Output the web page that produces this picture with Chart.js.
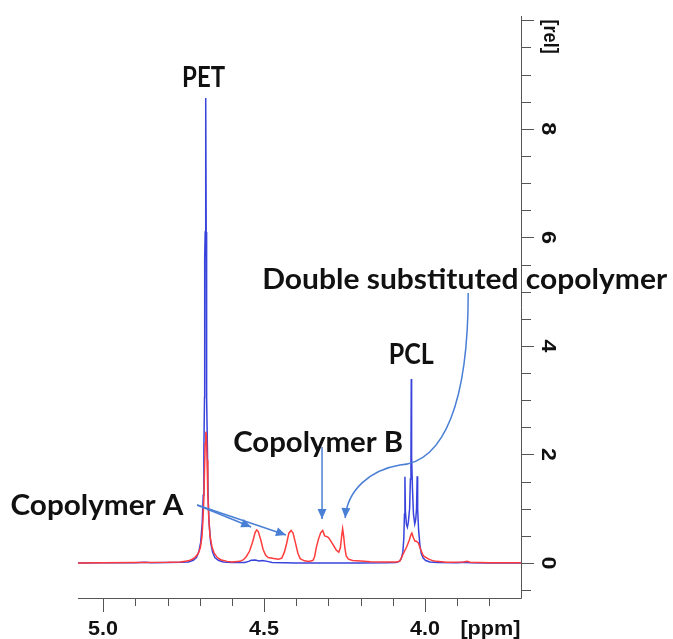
<!DOCTYPE html>
<html>
<head>
<meta charset="utf-8">
<script src="https://cdn.jsdelivr.net/npm/chart.js@4.4.1/dist/chart.umd.min.js"></script>
<style>
  html, body { margin: 0; padding: 0; background: #ffffff; }
  #wrap { width: 673px; height: 639px; position: relative; }
</style>
</head>
<body>
<div id="wrap"><canvas id="c" width="673" height="639"></canvas></div>
<script>
// ---------- data ----------
const bluePpm = [5.078,5.00,4.90,4.87,4.85,4.80,4.76,4.735,4.72,4.71,4.703,4.697,4.692,4.689,4.687,4.685,4.6845,4.683,4.6818,4.6808,4.6798,4.679,4.678,4.676,4.674,4.671,4.666,4.660,4.653,4.642,4.627,4.60,4.56,4.548,4.54,4.528,4.515,4.505,4.49,4.475,4.40,4.30,4.20,4.12,4.09,4.08,4.074,4.069,4.066,4.064,4.0625,4.061,4.058,4.055,4.052,4.048,4.0455,4.0438,4.0428,4.0418,4.039,4.036,4.032,4.029,4.0265,4.0245,4.023,4.020,4.016,4.012,4.006,3.998,3.985,3.96,3.90,3.875,3.86,3.80,3.702];
const blueRel = [0,0.003,0.005,0.012,0.005,0.008,0.012,0.02,0.05,0.1,0.2,0.38,0.75,1.25,2.1,3.05,5.6,6.1,8.57,8.57,6.1,5.6,3.05,2.1,1.25,0.75,0.38,0.2,0.1,0.05,0.02,0.008,0.01,0.03,0.05,0.055,0.035,0.045,0.03,0.01,0.002,0,0,0.003,0.01,0.03,0.08,0.2,0.45,0.9,1.59,0.95,0.72,0.66,0.75,1.0,1.55,1.95,3.39,1.95,1.35,0.9,0.72,0.8,1.0,1.6,1.0,0.6,0.33,0.18,0.09,0.045,0.02,0.008,0.003,0.012,0.003,0,0];

const redPpm = [5.078,5.00,4.90,4.80,4.76,4.735,4.725,4.715,4.705,4.698,4.693,4.690,4.687,4.685,4.683,4.681,4.679,4.677,4.675,4.672,4.668,4.662,4.655,4.645,4.635,4.615,4.600,4.575,4.564,4.555,4.545,4.535,4.528,4.523,4.518,4.510,4.503,4.495,4.487,4.470,4.455,4.445,4.437,4.430,4.423,4.416,4.410,4.403,4.395,4.388,4.375,4.360,4.348,4.343,4.338,4.331,4.324,4.318,4.312,4.306,4.300,4.292,4.284,4.276,4.268,4.263,4.259,4.256,4.253,4.249,4.245,4.238,4.225,4.200,4.170,4.120,4.087,4.078,4.067,4.057,4.049,4.044,4.041,4.036,4.031,4.027,4.021,4.013,4.005,3.99,3.975,3.964,3.933,3.88,3.870,3.86,3.80,3.702];
const redRel = [0,0.005,0.008,0.012,0.02,0.04,0.065,0.1,0.17,0.28,0.48,0.78,1.2,1.7,2.2,2.42,2.35,1.9,1.3,0.85,0.5,0.3,0.18,0.1,0.06,0.03,0.02,0.03,0.06,0.12,0.22,0.40,0.56,0.61,0.58,0.42,0.25,0.14,0.1,0.085,0.07,0.09,0.2,0.36,0.55,0.6,0.55,0.38,0.18,0.08,0.04,0.03,0.05,0.12,0.28,0.44,0.56,0.6,0.5,0.49,0.47,0.4,0.32,0.24,0.2,0.28,0.5,0.63,0.5,0.28,0.13,0.07,0.045,0.035,0.025,0.02,0.02,0.04,0.18,0.3,0.42,0.52,0.55,0.46,0.4,0.4,0.37,0.24,0.13,0.075,0.04,0.03,0.015,0.02,0.03,0.015,0.005,0.005];

const xMajorTicks = [5.0, 4.5, 4.0];
const xTickLabels = ['5.0', '4.5', '4.0'];
const yMajorTicks = [0, 2, 4, 6, 8];
const yTickLabels = ['0', '2', '4', '6', '8'];
const xUnitLabel = '[ppm]';
const yUnitLabel = '[rel]';
const labelTexts = ['PET', 'PCL', 'Copolymer B', 'Copolymer A', 'Double substituted copolymer'];

// ---------- build datasets ----------
const toPts = (xs, ys) => xs.map((x, i) => ({ x: x, y: ys[i] }));

const BLUE = '#3843dc';
const RED = '#ff3c3c';
const ARROW = '#4a7fd6';

function fitText(ctx, text, cx, cy, w, font, rot, baseline) {
  ctx.save();
  ctx.font = font;
  const m = ctx.measureText(text).width;
  ctx.translate(cx, cy);
  if (rot) ctx.rotate(rot);
  ctx.scale(w / m, 1);
  ctx.textAlign = 'center';
  ctx.textBaseline = baseline || 'alphabetic';
  ctx.fillText(text, 0, 0);
  ctx.restore();
}

function arrowHead(ctx, fx, fy, tx, ty, len, half) {
  const a = Math.atan2(ty - fy, tx - fx);
  ctx.beginPath();
  ctx.moveTo(tx, ty);
  ctx.lineTo(tx - len * Math.cos(a) + half * Math.sin(a), ty - len * Math.sin(a) - half * Math.cos(a));
  ctx.lineTo(tx - len * Math.cos(a) - half * Math.sin(a), ty - len * Math.sin(a) + half * Math.cos(a));
  ctx.closePath();
  ctx.fill();
}

const decorPlugin = {
  id: 'decor',
  afterDraw(chart) {
    const ctx = chart.ctx;
    const xs = chart.scales.x, ys = chart.scales.y;
    const X = v => xs.getPixelForValue(v);
    const Y = v => ys.getPixelForValue(v);
    const ca = chart.chartArea;
    ctx.save();
    // axes lines
    ctx.strokeStyle = '#555555';
    ctx.lineWidth = 1;
    ctx.beginPath();
    ctx.moveTo(ca.left, ca.bottom + 0.5);
    ctx.lineTo(ca.right + 0.5, ca.bottom + 0.5);
    ctx.moveTo(ca.right + 0.5, ca.top);
    ctx.lineTo(ca.right + 0.5, ca.bottom + 0.5);
    ctx.stroke();
    // x ticks every 0.1 ppm
    ctx.beginPath();
    for (let k = 51; k >= 37; k--) {
      const v = k / 10;
      if (v > xs.max || v < xs.min) continue;
      const px = Math.round(X(v)) + 0.5;
      const major = (k % 5 === 0);
      ctx.moveTo(px, ca.bottom);
      ctx.lineTo(px, ca.bottom + (major ? 14 : 8));
    }
    // y ticks every 0.5
    for (let k = -1; k <= 20; k++) {
      const v = k / 2;
      if (v > ys.max || v < ys.min) continue;
      const py = Math.round(Y(v)) + 0.5;
      const major = (k % 4 === 0);
      ctx.moveTo(ca.right, py);
      ctx.lineTo(ca.right + (major ? 13 : 10), py);
    }
    ctx.stroke();

    // tick labels
    ctx.fillStyle = '#111111';
    const tickFont = 'bold 21px "Liberation Sans", Arial, sans-serif';
    xMajorTicks.forEach((v, i) => {
      fitText(ctx, xTickLabels[i], X(v), 635, 30, tickFont);
    });
    fitText(ctx, xUnitLabel, X(3.797), 635, 60, tickFont);
    yMajorTicks.forEach((v, i) => {
      fitText(ctx, yTickLabels[i], 548, Y(v), 13, tickFont, Math.PI / 2, 'middle');
    });
    fitText(ctx, yUnitLabel, 550, Y(9.7), 34, tickFont, Math.PI / 2, 'middle');

    // arrows
    ctx.strokeStyle = ARROW;
    ctx.fillStyle = ARROW;
    ctx.lineWidth = 1.5;
    // Copolymer A (two arrows)
    const aS = [X(4.708), Y(1.069)];
    [[4.540, 0.664], [4.432, 0.516]].forEach(t => {
      const tx = X(t[0]), ty = Y(t[1]);
      ctx.beginPath();
      ctx.moveTo(aS[0], aS[1]);
      ctx.lineTo(tx, ty);
      ctx.stroke();
      arrowHead(ctx, aS[0], aS[1], tx, ty, 10, 4.5);
    });
    // Copolymer B
    ctx.beginPath();
    ctx.moveTo(X(4.320), Y(2.138));
    ctx.lineTo(X(4.320), Y(0.811));
    ctx.stroke();
    arrowHead(ctx, X(4.320), Y(2.138), X(4.320), Y(0.811), 10, 4.5);
    // Double substituted copolymer (curved)
    ctx.beginPath();
    ctx.moveTo(X(3.866), Y(4.977));
    ctx.bezierCurveTo(X(3.866), Y(3.005), X(3.938), Y(1.862), X(4.078), Y(1.806));
    ctx.bezierCurveTo(X(4.171), Y(1.714), X(4.242), Y(1.346), X(4.248), Y(0.829));
    ctx.stroke();
    arrowHead(ctx, X(4.242), Y(1.346), X(4.248), Y(0.829), 10, 4.5);

    // text labels
    ctx.fillStyle = '#111111';
    const lf = 'bold 29px Lato, "Open Sans", sans-serif';
    fitText(ctx, labelTexts[0], X(4.688), Y(8.774), 43, lf);
    fitText(ctx, labelTexts[1], X(4.043), Y(3.668), 45, lf);
    fitText(ctx, labelTexts[2], X(4.332), Y(2.046), 170, lf);
    fitText(ctx, labelTexts[3], X(5.019), Y(0.885), 173, lf);
    fitText(ctx, labelTexts[4], X(3.877), Y(5.051), 405, lf);
    ctx.restore();
  }
};

new Chart(document.getElementById('c'), {
  type: 'scatter',
  data: {
    datasets: [
      { label: 'red', data: toPts(redPpm, redRel), showLine: true, borderColor: RED, borderWidth: 1.5, pointRadius: 0, tension: 0 },
      { label: 'blue', data: toPts(bluePpm, blueRel), showLine: true, borderColor: BLUE, borderWidth: 1.5, pointRadius: 0, tension: 0 }
    ]
  },
  options: {
    responsive: false,
    animation: false,
    devicePixelRatio: 1,
    layout: { padding: { left: 78, right: 152, top: 16, bottom: 41 } },
    plugins: { legend: { display: false }, tooltip: { enabled: false } },
    scales: {
      x: { type: 'linear', reverse: true, min: 3.702, max: 5.078, display: false },
      y: { type: 'linear', min: -0.645, max: 10.08, display: false }
    }
  },
  plugins: [decorPlugin]
});
</script>
</body>
</html>
